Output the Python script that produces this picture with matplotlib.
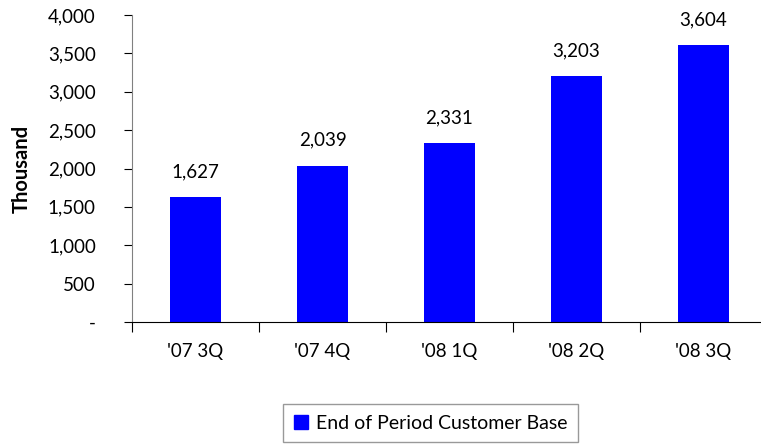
import matplotlib
matplotlib.use("Agg")
import matplotlib.pyplot as plt
from matplotlib.patches import Patch

quarters = ["'07 3Q", "'07 4Q", "'08 1Q", "'08 2Q", "'08 3Q"]
customers = [1627, 2039, 2331, 3203, 3604]
yticks = [0, 500, 1000, 1500, 2000, 2500, 3000, 3500, 4000]
ytick_labels = ["-", "500", "1,000", "1,500", "2,000", "2,500", "3,000", "3,500", "4,000"]

plt.rcParams["font.family"] = ["Lato", "DejaVu Sans"]

fig = plt.figure(figsize=(7.61, 4.47), dpi=100)
ax = fig.add_axes([132 / 761, 1 - 322 / 447, 635 / 761, 307 / 447])

x = list(range(len(quarters)))
ax.bar(x, customers, width=0.4, color="#0000ff")
for xi, v in zip(x, customers):
    ax.annotate(f"{v:,}", (xi, v), xytext=(0, 12), textcoords="offset points",
                ha="center", va="bottom", fontsize=13.5)

ax.set_xlim(-0.5, 4.5)
ax.set_ylim(0, 4000)
ax.set_yticks(yticks)
ax.set_yticklabels(ytick_labels, fontsize=13.5)
ax.set_xticks([i - 0.5 for i in range(len(quarters) + 1)])
ax.set_xticklabels([])
ax.set_xticks(x, minor=True)
ax.set_xticklabels(quarters, minor=True, fontsize=13.5)
ax.tick_params(axis="x", which="major", length=7, direction="out", color="black")
ax.tick_params(axis="x", which="minor", length=0, pad=15)
ax.tick_params(axis="y", length=6, direction="out", color="black", pad=20)

for s in ["top", "right"]:
    ax.spines[s].set_visible(False)
ax.spines["left"].set_color("#808080")
ax.spines["bottom"].set_color("black")

ax.set_ylabel("Thousand", fontsize=14.5, fontweight="bold")
ax.yaxis.set_label_coords(-(132 - 32) / 635, 0.5)

leg = fig.legend(handles=[Patch(color="#0000ff", label="End of Period Customer Base")],
                 loc="upper left", bbox_to_anchor=(283 / 761, 1 - 404 / 447),
                 fontsize=14, frameon=True, fancybox=False, handlelength=0.75,
                 handleheight=0.75, handletextpad=0.4, borderpad=0.55,
                 borderaxespad=0)
leg.get_frame().set_edgecolor("#808080")
leg.get_frame().set_linewidth(1.0)

fig.savefig("out.png", dpi=100)
